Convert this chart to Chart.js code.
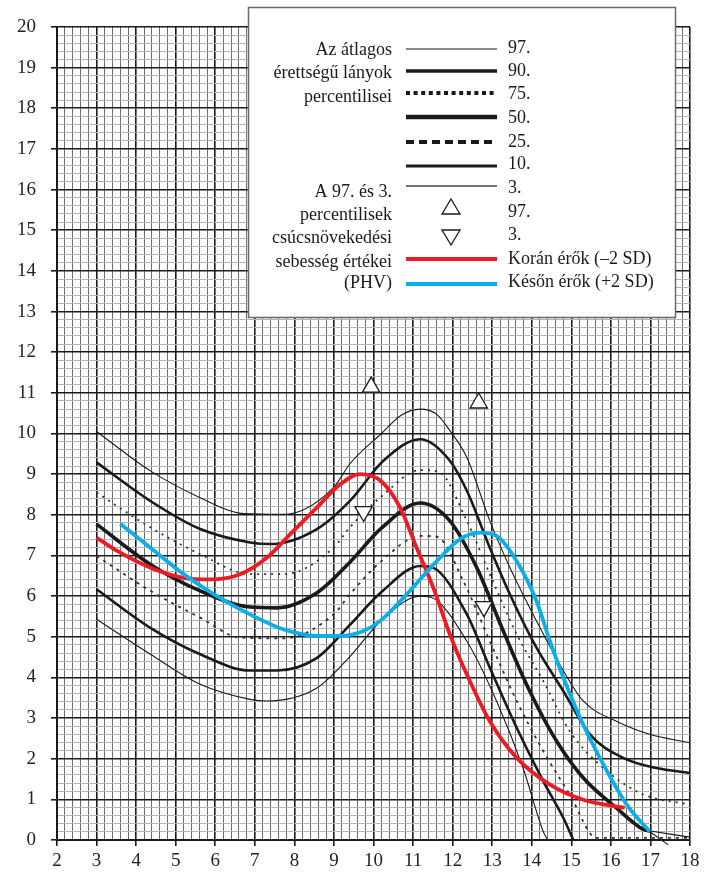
<!DOCTYPE html>
<html>
<head>
<meta charset="utf-8">
<script src="https://cdn.jsdelivr.net/npm/chart.js@4.4.0/dist/chart.umd.min.js"></script>
<style>
  html, body { margin: 0; padding: 0; background: #fff; }
  #wrap { width: 710px; height: 874px; }
</style>
</head>
<body>
<div id="wrap"><canvas id="phvChart" width="710" height="874"></canvas></div>
<script>
// Percentilis görbék: [életkor (év), növekedési sebesség (cm/év)]
const p97 = [[3, 10.05], [4.36, 9.08], [5.62, 8.42], [6.71, 8.03], [7.73, 8.01], [8.99, 8.67], [9.4, 9.25], [10.2, 10.0], [10.7, 10.45], [11.18, 10.6], [11.6, 10.47], [11.93, 10.07], [12.36, 9.41], [12.94, 7.85], [13.45, 6.7], [14.12, 5.39], [14.8, 4.16], [15.3, 3.42], [16.14, 2.92], [16.98, 2.6], [18, 2.39]];
const p90 = [[3, 9.29], [4.36, 8.34], [5.62, 7.65], [6.88, 7.32], [7.39, 7.28], [8.57, 7.65], [9.41, 8.35], [10.25, 9.33], [11.18, 9.86], [11.93, 9.33], [12.36, 8.59], [12.94, 7.19], [13.45, 6.04], [14.12, 4.73], [14.8, 3.66], [15.47, 2.6], [16.31, 2.02], [17.15, 1.77], [18, 1.65]];
const p75 = [[3, 8.55], [4.36, 7.69], [5.62, 7.03], [6.88, 6.54], [7.73, 6.54], [8.99, 7.19], [9.41, 7.7], [10.2, 8.45], [11.18, 9.1], [11.64, 9.06], [12.36, 7.85], [12.94, 6.54], [13.62, 5.06], [14.29, 3.91], [14.96, 2.68], [15.81, 1.77], [16.82, 1.12], [18, 0.87]];
const p50 = [[3, 7.77], [4.36, 6.78], [5.62, 6.13], [6.88, 5.73], [7.56, 5.71], [8.57, 6.08], [9.41, 6.84], [10.2, 7.67], [11.18, 8.29], [11.93, 7.85], [12.61, 6.7], [13.28, 5.14], [13.95, 3.66], [14.63, 2.43], [15.3, 1.53], [16.14, 0.79], [16.82, 0.26], [17, 0.22]];
const p50Tail = [[17, 0.22], [18, 0.07]];
const p25 = [[3, 6.99], [4.36, 6.13], [5.62, 5.47], [6.63, 4.98], [7.73, 4.96], [8.99, 5.55], [9.41, 6.05], [10.2, 6.86], [11.18, 7.48], [11.6, 7.46], [12.27, 6.37], [12.94, 4.89], [13.62, 3.42], [14.29, 2.19], [14.96, 1.12], [15.64, 0.05], [18, 0.05]];
const p10 = [[3, 6.17], [4.36, 5.22], [5.62, 4.57], [6.88, 4.17], [7.56, 4.17], [8.57, 4.48], [9.41, 5.3], [10.2, 6.1], [11.18, 6.74], [11.5, 6.7], [12.36, 5.55], [12.94, 4.24], [13.62, 2.76], [14.29, 1.45], [14.8, 0.54], [15.05, 0]];
const p3 = [[3, 5.43], [4.36, 4.57], [5.62, 3.83], [6.88, 3.46], [7.3, 3.42], [8.57, 3.74], [9.41, 4.52], [10.2, 5.4], [11.18, 6.0], [11.45, 5.97], [12.36, 4.89], [13.11, 3.42], [13.78, 1.77], [14.29, 0.21], [14.4, 0]];

// Korán és későn érők (±2 SD)
const early = [[3, 7.44], [3.52, 7.11], [4.36, 6.7], [5.2, 6.45], [5.87, 6.41], [6.63, 6.54], [7.31, 6.95], [7.89, 7.52], [8.57, 8.18], [9.16, 8.75], [9.66, 9.0], [10.2, 8.82], [10.67, 8.18], [11.09, 7.19], [11.51, 6.21], [11.93, 5.06], [12.36, 4.07], [12.94, 2.92], [13.62, 2.02], [14.46, 1.36], [15.3, 0.99], [16.35, 0.79]];
const late = [[3.6, 7.78], [4.36, 7.19], [5.2, 6.54], [6.04, 6.0], [6.88, 5.55], [7.73, 5.18], [8.57, 5.02], [9.16, 5.02], [9.75, 5.14], [10.17, 5.39], [10.92, 6.13], [11.6, 6.86], [12.19, 7.4], [12.69, 7.56], [13.11, 7.48], [13.62, 6.86], [14.12, 5.88], [14.46, 4.89], [14.8, 3.99], [15.3, 2.84], [15.81, 1.86], [16.4, 0.87], [16.98, 0.21]];
const lateTail = [[16.98, 0.21], [17.45, -0.12]];

// PHV pontok (97. és 3. percentilis)
const phv97 = [[9.94, 11.14], [12.66, 10.75]];
const phv3 = [[9.75, 8.08], [12.79, 5.74]];

// Tengelyek
const xRange = [2, 18];
const yRange = [0, 20];

// Jelmagyarázat szövegei
const legendLeft = ['Az átlagos', 'érettségű lányok', 'percentilisei', 'A 97. és 3.', 'percentilisek', 'csúcsnövekedési', 'sebesség értékei', '(PHV)'];
const legendRight = ['97.', '90.', '75.', '50.', '25.', '10.', '3.', '97.', '3.', 'Korán érők (–2 SD)', 'Későn érők (+2 SD)'];

const RED = '#ec1c24';
const BLUE = '#0aaee8';
const INK = '#1a1a1a';
const SERIF = "'Liberation Serif', 'DejaVu Serif', serif";

const isInt = v => Math.abs(v - Math.round(v)) < 1e-6;
const toXY = arr => arr.map(([x, y]) => ({ x, y }));

function curve(data, width, color, dash) {
  return {
    data: toXY(data),
    borderColor: color,
    borderWidth: width,
    borderDash: dash || [],
    pointRadius: 0,
    fill: false,
    cubicInterpolationMode: 'monotone',
    clip: 6
  };
}

function marker(data, rotation) {
  return {
    data: toXY(data),
    showLine: false,
    pointStyle: 'triangle',
    pointRadius: 10,
    pointRotation: rotation,
    pointBackgroundColor: '#fff',
    pointBorderColor: INK,
    pointBorderWidth: 1.3
  };
}

// Jelmagyarázat doboz kézzel rajzolva
const legendBox = {
  id: 'legendBox',
  afterDraw(chart) {
    const c = chart.ctx;
    c.save();
    c.fillStyle = '#fff';
    c.fillRect(248, 7, 428, 311);
    c.strokeStyle = '#6a6a6a';
    c.lineWidth = 1.5;
    c.strokeRect(248.5, 7.5, 427, 310);

    c.font = '18px ' + SERIF;
    c.fillStyle = INK;
    c.textAlign = 'right';
    const leftY = [55, 78, 102, 197, 220, 243, 267, 288];
    legendLeft.forEach((t, i) => c.fillText(t, 392, leftY[i]));

    c.textAlign = 'left';
    const rightY = [53, 76, 99, 123, 147, 169, 193, 217, 240, 264, 287];
    legendRight.forEach((t, i) => c.fillText(t, 508, rightY[i]));

    const samples = [
      { y: 49, w: 1.2, color: INK, dash: [] },
      { y: 71, w: 3.5, color: INK, dash: [] },
      { y: 93, w: 4, color: INK, dash: [4, 3.6] },
      { y: 117, w: 4.5, color: INK, dash: [] },
      { y: 142, w: 4, color: INK, dash: [8, 5] },
      { y: 166, w: 3, color: INK, dash: [] },
      { y: 186, w: 1.5, color: '#444', dash: [] },
      { y: 259, w: 4, color: RED, dash: [] },
      { y: 284, w: 4, color: BLUE, dash: [] }
    ];
    samples.forEach(s => {
      c.beginPath();
      c.setLineDash(s.dash);
      c.lineWidth = s.w;
      c.strokeStyle = s.color;
      c.moveTo(406, s.y);
      c.lineTo(497, s.y);
      c.stroke();
    });
    c.setLineDash([]);

    c.lineWidth = 1.3;
    c.strokeStyle = INK;
    c.fillStyle = '#fff';
    // felfelé mutató háromszög
    c.beginPath();
    c.moveTo(451, 199); c.lineTo(460, 214); c.lineTo(442, 214); c.closePath();
    c.fill(); c.stroke();
    // lefelé mutató háromszög
    c.beginPath();
    c.moveTo(442, 230); c.lineTo(460, 230); c.lineTo(451, 245); c.closePath();
    c.fill(); c.stroke();
    c.restore();
  }
};

const gridColor = (ctx, minor) => isInt(ctx.tick.value) ? INK : minor;

new Chart(document.getElementById('phvChart'), {
  type: 'line',
  data: {
    datasets: [
      marker(phv97, 0),
      marker(phv3, 180),
      curve(late, 3.8, BLUE),
      curve(early, 3.8, RED),
      curve(p97, 1.1, INK),
      curve(p90, 2.6, INK),
      curve(p75, 1.8, '#333', [2, 5]),
      curve(p50, 3.6, INK),
      curve(p50Tail, 1.1, INK),
      curve(p25, 1.8, '#333', [3, 5]),
      curve(p10, 2.6, INK),
      curve(p3, 1.1, INK),
      curve(lateTail, 1.1, INK)
    ]
  },
  options: {
    responsive: false,
    animation: false,
    events: [],
    layout: { padding: { top: 27, right: 20, left: 0, bottom: 0 } },
    plugins: { legend: { display: false }, tooltip: { enabled: false } },
    scales: {
      x: {
        type: 'linear',
        min: xRange[0],
        max: xRange[1],
        afterFit: s => { s.height = 34; },
        border: { color: INK, width: 2 },
        grid: {
          color: ctx => gridColor(ctx, '#6e6e6e'),
          lineWidth: ctx => isInt(ctx.tick.value) ? 1.6 : 1,
          tickColor: ctx => isInt(ctx.tick.value) ? INK : 'rgba(0,0,0,0)',
          tickLength: 6
        },
        ticks: {
          stepSize: 0.2,
          autoSkip: false,
          maxRotation: 0,
          minRotation: 0,
          padding: 4,
          color: '#222',
          font: { family: SERIF, size: 19 },
          callback: v => isInt(v) ? String(Math.round(v)) : ''
        }
      },
      y: {
        min: yRange[0],
        max: yRange[1],
        afterFit: s => { s.width = 57; },
        border: { color: INK, width: 2 },
        grid: {
          color: ctx => gridColor(ctx, '#b4b4b4'),
          lineWidth: ctx => isInt(ctx.tick.value) ? 1.6 : 1,
          tickColor: ctx => isInt(ctx.tick.value) ? INK : 'rgba(0,0,0,0)',
          tickLength: 6
        },
        ticks: {
          stepSize: 0.2,
          autoSkip: false,
          padding: 15,
          color: '#222',
          font: { family: SERIF, size: 19 },
          callback: v => isInt(v) ? String(Math.round(v)) : ''
        }
      }
    }
  },
  plugins: [legendBox]
});
</script>
</body>
</html>
